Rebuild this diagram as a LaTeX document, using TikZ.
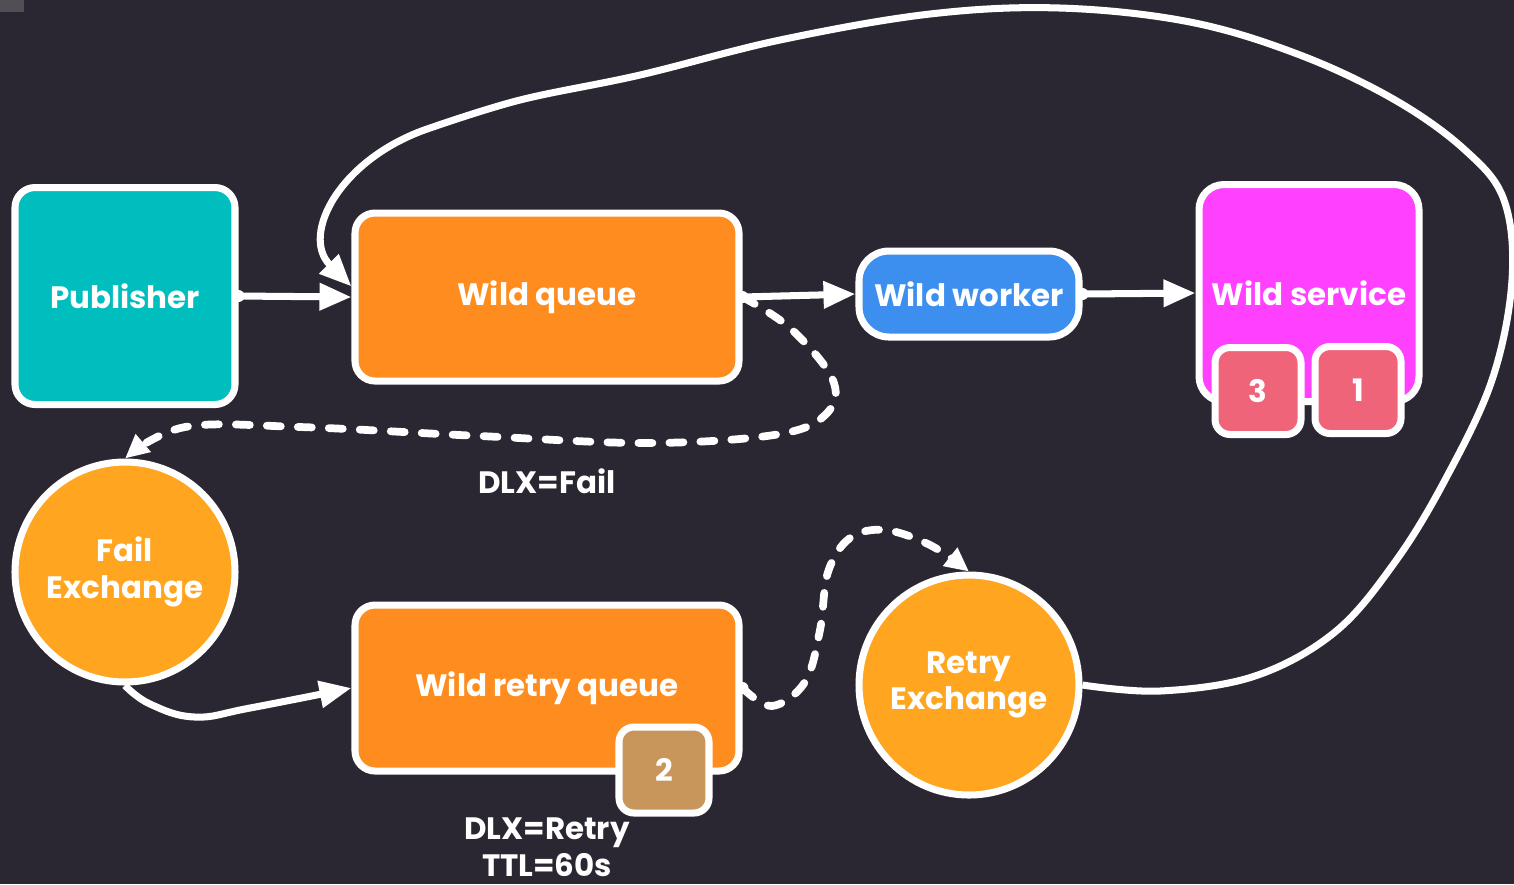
\documentclass[tikz,border=0pt]{standalone}
\usepackage{fontspec}
\setmainfont{Poppins}
\usetikzlibrary{arrows.meta,positioning}

\definecolor{bgdark}{RGB}{42,39,51}
\definecolor{pubteal}{RGB}{0,190,190}
\definecolor{queueorange}{RGB}{255,140,30}
\definecolor{xchorange}{RGB}{255,165,32}
\definecolor{workerblue}{RGB}{60,143,238}
\definecolor{servicepink}{RGB}{255,64,255}
\definecolor{badgered}{RGB}{240,100,122}
\definecolor{badgebrown}{RGB}{200,149,90}

\tikzset{
  box/.style={draw=white, line width=2pt, rounded corners=2mm, text=white,
    font=\bfseries\fontsize{8.8}{10.4}\selectfont, align=center, inner sep=0pt},
  xch/.style={box, circle, fill=xchorange, minimum size=22mm},
  badge/.style={box, rounded corners=1.5mm, fill=badgered,
    minimum width=8.6mm, minimum height=8.7mm},
  flow/.style={draw=white, line width=2pt, -{Triangle[length=3.2mm,width=2.6mm]}},
  dlx/.style={flow, line width=2.2pt, dash pattern=on 1.4mm off 1.7mm, line cap=round,
    -{Triangle[length=2.4mm,width=2.2mm]}},
  note/.style={text=white, font=\bfseries\fontsize{8.8}{10.4}\selectfont, align=center}
}

\begin{document}
\begin{tikzpicture}[x=0.1mm,y=-0.1mm]
    % background
    \useasboundingbox (0,0) rectangle (1514,884);
    \fill[bgdark] (0,0) rectangle (1514,884);
    \fill[gray!45!bgdark] (0,0) rectangle (24,12);

    % main line
    \node[box, fill=pubteal, minimum width=22mm, minimum height=21.7mm] (pub) at (125,296) {Publisher};
    \node[box, fill=queueorange, minimum width=38.4mm, minimum height=16.8mm] (wq) at (547,297) {Wild queue};
    \node[box, fill=workerblue, rounded corners=3mm, minimum width=22mm, minimum height=8.6mm] (ww) at (969,294) {Wild worker};
    \node[box, fill=servicepink, rounded corners=2.5mm, minimum width=22mm, minimum height=21.7mm] (ws) at (1309,293) {Wild service};
    \node[badge] (b3) at (1258,391) {3};
    \node[badge] (b1) at (1358,390) {1};

    % retry line
    \node[xch] (fx) at (125,572) {Fail\\Exchange};
    \node[box, fill=queueorange, minimum width=38.4mm, minimum height=16.6mm] (wrq) at (547,688) {Wild retry queue};
    \node[badge, fill=badgebrown, minimum width=9mm, minimum height=8.6mm] (b2) at (664,770) {2};
    \node[xch] (rx) at (969,685) {Retry\\Exchange};

    % labels
    \node[note] (dlxfail) at (547,481) {DLX=Fail};
    \node[note] (dlxretry) at (547,847) {DLX=Retry\\TTL=60s};

    % connectors
    \draw[flow] (pub.east) -- (wq.west);
    \draw[flow] (wq.east) -- (ww.west);
    \draw[flow] (ww.east) -- (ws.west);
    \draw[flow] plot[smooth, tension=0.7] coordinates {(fx.south) (150,704) (195,717) (250,708) (wrq.west)};

    % dead letters
    \draw[dlx] plot[smooth, tension=0.6] coordinates {(wq.east) (790,328) (832,378) (828,412)
        (780,434) (650,443) (480,436) (300,427) (185,427) (fx.north)};
    \draw[dlx] plot[smooth, tension=0.6] coordinates {(wrq.east) (772,706) (805,682) (820,630)
        (828,572) (850,538) (885,530) (930,545) (rx.north)};

    % back to the queue
    \draw[flow] plot[smooth, tension=0.6] coordinates {(rx.east) (1160,691) (1255,676) (1335,632)
        (1395,562) (1445,480) (1492,380) (1512,280) (1504,200) (1465,150) (1395,100)
        (1300,55) (1190,22) (1060,8) (930,14) (780,40) (640,75) (520,100) (430,128)}
        .. controls (340,158) and (300,235) .. ([yshift=3pt]wq.west);

    % attach points
    \foreach \p in {pub.east, wq.east, ww.east, wrq.east}
        \fill[white] (\p) circle[radius=0.6mm];
\end{tikzpicture}
\end{document}
